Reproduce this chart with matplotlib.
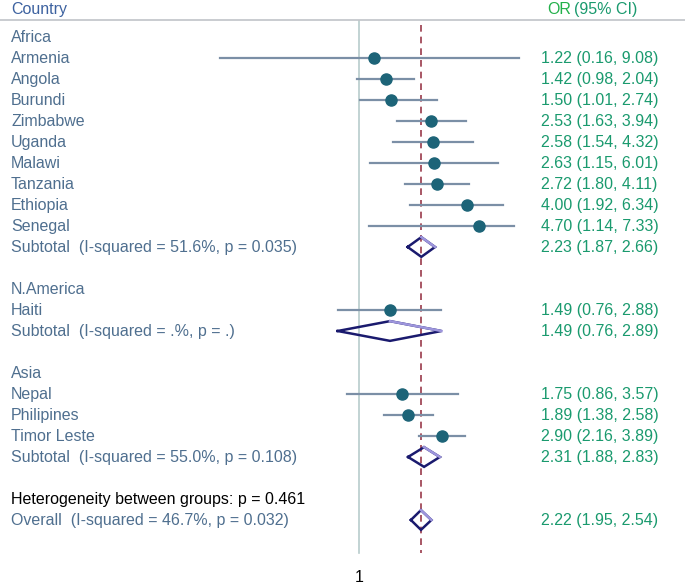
import numpy as np
import matplotlib
matplotlib.use("Agg")
import matplotlib.pyplot as plt

plt.rcParams['font.family'] = ['Liberation Sans', 'DejaVu Sans']

# study rows: (group, country, OR, lower, upper)
groups = ["Africa", "N.America", "Asia"]
countries = [
    ["Armenia", "Angola", "Burundi", "Zimbabwe", "Uganda", "Malawi",
     "Tanzania", "Ethiopia", "Senegal"],
    ["Haiti"],
    ["Nepal", "Philipines", "Timor Leste"],
]
odds = [
    [1.22, 1.42, 1.50, 2.53, 2.58, 2.63, 2.72, 4.00, 4.70],
    [1.49],
    [1.75, 1.89, 2.90],
]
lower = [
    [0.16, 0.98, 1.01, 1.63, 1.54, 1.15, 1.80, 1.92, 1.14],
    [0.76],
    [0.86, 1.38, 2.16],
]
upper = [
    [9.08, 2.04, 2.74, 3.94, 4.32, 6.01, 4.11, 6.34, 7.33],
    [2.88],
    [3.57, 2.58, 3.89],
]
sub_labels = ["Subtotal  (I-squared = 51.6%, p = 0.035)",
              "Subtotal  (I-squared = .%, p = .)",
              "Subtotal  (I-squared = 55.0%, p = 0.108)"]
sub_or = [2.23, 1.49, 2.31]
sub_lo = [1.87, 0.76, 1.88]
sub_hi = [2.66, 2.89, 2.83]
het_label = "Heterogeneity between groups: p = 0.461"
overall_label = "Overall  (I-squared = 46.7%, p = 0.032)"
overall = (2.22, 1.95, 2.54)

label_col = "#4f6f8f"
green = "#1a9a6e"
ci_col = "#7b8fa6"
dot_col = "#1d6478"
navy = "#1a1a6e"
light = "#9d95dc"

W, H = 685, 583
fig = plt.figure(figsize=(W / 100, H / 100), dpi=100)
ax = fig.add_axes([0, 0, 1, 1])
ax.set_xscale("log")
px_per_ln = 77.7
x1_px = 359
ax.set_xlim(np.exp(-x1_px / px_per_ln), np.exp((W - x1_px) / px_per_ln))
row_h = 21
row0_px = 16
def row_of(px):
    return (px - row0_px) / row_h
ax.set_ylim(row_of(H), row_of(0))
ax.axis("off")

tr = ax.get_yaxis_transform()  # x in axes coords, y in data
fs = 11.5
def ax_x(px):
    return px / W

clip_hi = np.exp((519 - x1_px) / px_per_ln)
clip_lo = np.exp((220 - x1_px) / px_per_ln)

def diamond(y, est, lo, hi, h=0.47):
    xs = [lo, est, hi, est, lo]
    ys = [y, y + h, y, y - h, y]
    ax.plot(xs, ys, color=navy, lw=1.8, zorder=4, solid_joinstyle="miter")
    ax.plot([est, hi], [y - h, y], color=light, lw=1.8, zorder=5)

# header
hy = row_of(9)
ax.text(ax_x(11), hy, "Country", transform=tr, color="#3d62a0", fontsize=fs,
        va="center", ha="left")
ax.text(ax_x(547), hy, "OR", transform=tr, color="#22b04a", fontsize=fs,
        va="center", ha="left")
ax.text(ax_x(574), hy, "(95% CI)", transform=tr, color=green, fontsize=fs,
        va="center", ha="left")
ax.plot([0, 1], [row_of(20), row_of(20)], transform=tr, color="#c0c4c8", lw=1.2)

row = 1
for g in range(len(groups)):
    ax.text(ax_x(11), row, groups[g], transform=tr, color=label_col,
            fontsize=fs, va="center")
    row += 1
    for i, c in enumerate(countries[g]):
        ax.text(ax_x(11), row, c, transform=tr, color=label_col,
                fontsize=fs, va="center")
        lo = max(lower[g][i], clip_lo)
        hi = min(upper[g][i], clip_hi)
        ax.plot([lo, hi], [row, row], color=ci_col, lw=1.6, zorder=3)
        ax.plot(odds[g][i], row, "o", color=dot_col, ms=8, zorder=6)
        ax.text(ax_x(541), row, "%.2f (%.2f, %.2f)" % (odds[g][i], lower[g][i], upper[g][i]),
                transform=tr, color=green, fontsize=fs, va="center")
        row += 1
    ax.text(ax_x(11), row, sub_labels[g], transform=tr, color=label_col,
            fontsize=fs, va="center")
    diamond(row, sub_or[g], sub_lo[g], sub_hi[g])
    ax.text(ax_x(541), row, "%.2f (%.2f, %.2f)" % (sub_or[g], sub_lo[g], sub_hi[g]),
            transform=tr, color=green, fontsize=fs, va="center")
    row += 2

ax.text(ax_x(11), row, het_label, transform=tr, color="black",
        fontsize=fs, va="center")
row += 1
ax.text(ax_x(11), row, overall_label, transform=tr, color=label_col,
        fontsize=fs, va="center")
diamond(row, *overall)
ax.text(ax_x(541), row, "%.2f (%.2f, %.2f)" % overall,
        transform=tr, color=green, fontsize=fs, va="center")

# reference lines
y_bottom = row_of(553)
ax.plot([1, 1], [row_of(21), y_bottom], color="#b8cccc", lw=1.2, zorder=1)
ax.plot([overall[0], overall[0]], [row_of(25), y_bottom], color="#9a3a4a", lw=1.2,
        ls=(0, (4, 3)), zorder=2)
ax.text(1, row_of(577), "1", color="black", fontsize=fs,
        ha="center", va="center")

fig.savefig("out.png", dpi=100)
